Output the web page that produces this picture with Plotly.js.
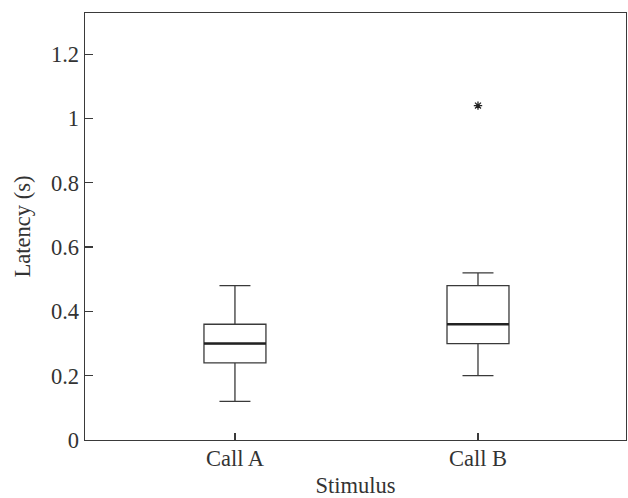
<!DOCTYPE html>
<html>
<head>
<meta charset="utf-8">
<script src="https://cdn.plot.ly/plotly-3.0.1.min.js"></script>
<style>html,body{margin:0;padding:0;background:#fff;}#chart{width:628px;height:498px;}</style>
</head>
<body>
<div id="chart"></div>
<script>
var categories = ['Call A', 'Call B'];
var lowerWhisker = [0.12, 0.20];
var q1Values = [0.24, 0.30];
var medianValues = [0.30, 0.36];
var q3Values = [0.36, 0.48];
var upperWhisker = [0.48, 0.52];
var outlierCategory = ['Call B'];
var outlierValues = [1.04];
var yTickValues = [0, 0.2, 0.4, 0.6, 0.8, 1, 1.2];
var yTickLabels = ['0', '0.2', '0.4', '0.6', '0.8', '1', '1.2'];

var boxWidth = 0.255;
var fontFamily = '"Liberation Serif", "Times New Roman", serif';
var lineColor = '#3a3a3a';
var fs = 22.5;

var traces = [
  {
    type: 'box',
    x: categories,
    q1: q1Values,
    median: medianValues,
    q3: q3Values,
    lowerfence: lowerWhisker,
    upperfence: upperWhisker,
    width: boxWidth,
    whiskerwidth: 0.5,
    boxpoints: false,
    line: {color: lineColor, width: 1.3},
    fillcolor: 'rgba(0,0,0,0)',
    hoverinfo: 'skip',
    showlegend: false
  },
  {
    type: 'scatter',
    mode: 'markers',
    x: outlierCategory,
    y: outlierValues,
    marker: {symbol: 'asterisk-open', size: 7, color: '#222', line: {color: '#222', width: 1.3}},
    hoverinfo: 'skip',
    showlegend: false
  }
];

var shapes = medianValues.map(function (m, i) {
  return {
    type: 'line', xref: 'x', yref: 'y',
    x0: i - boxWidth / 2, x1: i + boxWidth / 2, y0: m, y1: m,
    line: {color: '#222', width: 2.4}
  };
});

var layout = {
  width: 628,
  height: 498,
  margin: {l: 85, r: 2, t: 13, b: 58},
  paper_bgcolor: '#fff',
  plot_bgcolor: '#fff',
  font: {family: fontFamily, size: fs, color: '#333'},
  showlegend: false,
  shapes: shapes,
  xaxis: {
    type: 'category',
    range: [-0.617, 1.609],
    showgrid: false,
    zeroline: false,
    showline: true,
    linecolor: lineColor,
    linewidth: 1.4,
    mirror: true,
    ticks: 'inside',
    ticklen: 7,
    tickwidth: 1.2,
    tickcolor: lineColor,
    ticklabelstandoff: -2,
    tickfont: {family: fontFamily, size: fs, color: '#333'},
    title: {text: 'Stimulus', font: {family: fontFamily, size: fs, color: '#333'}, standoff: 16},
    automargin: false
  },
  yaxis: {
    range: [0, 1.328],
    tickvals: yTickValues,
    ticktext: yTickLabels,
    showgrid: false,
    zeroline: false,
    showline: true,
    linecolor: lineColor,
    linewidth: 1.4,
    mirror: true,
    ticks: 'inside',
    ticklen: 8,
    tickwidth: 1.2,
    tickcolor: lineColor,
    tickfont: {family: fontFamily, size: fs, color: '#333'},
    title: {text: 'Latency (s)', font: {family: fontFamily, size: fs, color: '#333'}, standoff: 14},
    automargin: false
  }
};

Plotly.newPlot('chart', traces, layout, {staticPlot: true, displayModeBar: false});
</script>
</body>
</html>
